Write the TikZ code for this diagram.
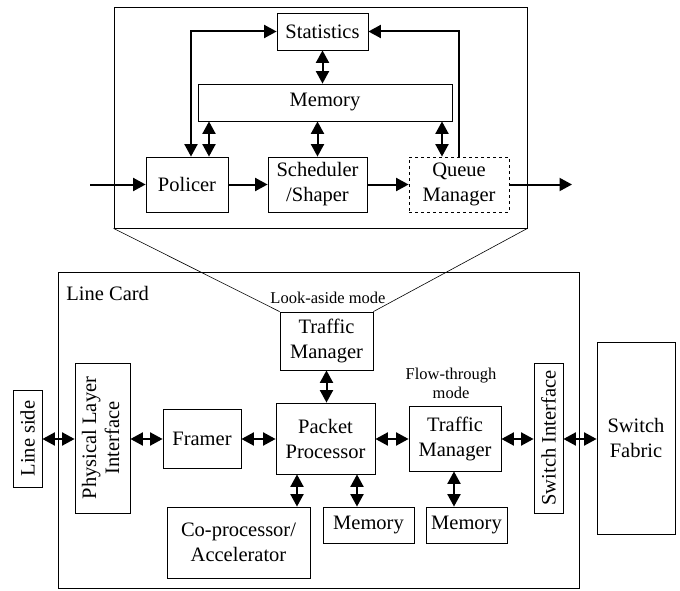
\documentclass[tikz,border=0pt]{standalone}
\usepackage{fontspec}
\usepackage{graphicx}
\setmainfont{Liberation Serif}
\usetikzlibrary{arrows.meta}
\begin{document}
\begin{tikzpicture}[x=1pt,y=-1pt,
  box/.style={draw,line width=0.8pt,inner sep=0pt,align=center,
    font=\fontsize{20.5}{25}\selectfont},
  frame/.style={draw,line width=0.8pt,inner sep=0pt},
  note/.style={inner sep=0pt,align=center,font=\fontsize{16.5}{19}\selectfont},
  flow/.style={line width=2pt,-{Triangle[length=12.5pt,width=13pt]}},
  dbl/.style={line width=2pt,{Triangle[length=12.5pt,width=13pt]}-{Triangle[length=12.5pt,width=13pt]}},
  zoomline/.style={line width=0.6pt}]
\useasboundingbox (0,0) rectangle (680,591);

% --- traffic manager detail ---
\node[frame,minimum width=413pt,minimum height=221pt] (detail) at (320.5,117.5) {};
\node[box,minimum width=91pt,minimum height=37pt] (stats) at (322.5,31.5) {Statistics};
\node[box,minimum width=254pt,minimum height=37pt] (tmem) at (325,102.5) {Memory};
\node[box,minimum width=82pt,minimum height=55pt] (pol) at (187,184.5) {Policer};
\node[box,minimum width=99pt,minimum height=55pt] (sch) at (317.5,184.5) {Scheduler\\/Shaper};
\node[box,dashed,minimum width=100pt,minimum height=55pt] (qm) at (459,184.5) {Queue\\Manager};

\coordinate (in) at (90,184.5);
\coordinate (out) at (572,184.5);
\coordinate (xpa) at (191,0);
\coordinate (xpb) at (209,0);
\coordinate (xq) at (442,0);
\coordinate (xqs) at (459,0);

\draw[flow] (in) -- (pol.west);
\draw[flow] (pol.east) -- (sch.west);
\draw[flow] (sch.east) -- (qm.west);
\draw[flow] (qm.east) -- (out);
\draw[dbl] (pol.north -| xpa) |- (stats.west);
\draw[flow] (qm.north -| xqs) |- (stats.east);
\draw[dbl] (tmem.south -| xpb) -- (pol.north -| xpb);
\draw[dbl] (stats.south) -- (tmem.north -| stats.south);
\draw[dbl] (tmem.south -| sch.north) -- (sch.north);
\draw[dbl] (tmem.south -| xq) -- (qm.north -| xq);

% --- line card ---
\node[frame,minimum width=521pt,minimum height=316pt] (card) at (318.5,430) {};
\node[box,anchor=west,draw=none] (cardlbl) at (66,293) {Line Card};
\node[note] (lamode) at (328,298) {Look-aside mode};
\node[box,minimum width=93pt,minimum height=58pt] (lat) at (326.5,341) {Traffic\\Manager};
\node[box,minimum width=99pt,minimum height=71pt] (pp) at (325.5,438.5) {Packet\\Processor};
\node[box,minimum width=78pt,minimum height=59pt] (fr) at (202,438.5) {Framer};
\node[box,minimum width=55pt,minimum height=150pt] (pli) at (102.5,438) {\rotatebox{90}{\begin{tabular}{@{}c@{}}Physical Layer\\[-2pt]Interface\end{tabular}}};
\node[box,minimum width=29pt,minimum height=97pt] (ls) at (27.5,438.5) {\rotatebox{90}{Line side}};
\node[box,minimum width=143pt,minimum height=71pt] (cop) at (238.5,542.5) {Co-processor/\\Accelerator};
\node[box,minimum width=91pt,minimum height=36pt] (mem1) at (368.5,525) {Memory};
\node[note] (ftmode) at (451,383) {Flow-through\\mode};
\node[box,minimum width=92pt,minimum height=65pt] (ftm) at (455,438.5) {Traffic\\Manager};
\node[box,minimum width=81pt,minimum height=36pt] (mem2) at (466.5,525) {Memory};
\node[box,minimum width=29pt,minimum height=150pt] (si) at (548.5,438) {\rotatebox{90}{Switch Interface}};
\node[box,minimum width=78pt,minimum height=192pt] (sf) at (636,438) {Switch\\Fabric};

\coordinate (ya) at (0,439);
\coordinate (xcop) at (297,0);
\coordinate (xm1) at (357,0);
\coordinate (xm2) at (454,0);

\draw[dbl] (ls.east |- ya) -- (pli.west |- ya);
\draw[dbl] (pli.east |- ya) -- (fr.west |- ya);
\draw[dbl] (fr.east |- ya) -- (pp.west |- ya);
\draw[dbl] (pp.east |- ya) -- (ftm.west |- ya);
\draw[dbl] (ftm.east |- ya) -- (si.west |- ya);
\draw[dbl] (si.east |- ya) -- (sf.west |- ya);
\draw[dbl] (lat.south) -- (pp.north -| lat.south);
\draw[dbl] (pp.south -| xcop) -- (cop.north -| xcop);
\draw[dbl] (pp.south -| xm1) -- (mem1.north -| xm1);
\draw[dbl] (ftm.south -| xm2) -- (mem2.north -| xm2);

% --- zoom lines to the look-aside traffic manager ---
\draw[zoomline] (detail.south west) -- (lat.north west);
\draw[zoomline] (detail.south east) -- (lat.north east);
\end{tikzpicture}
\end{document}
